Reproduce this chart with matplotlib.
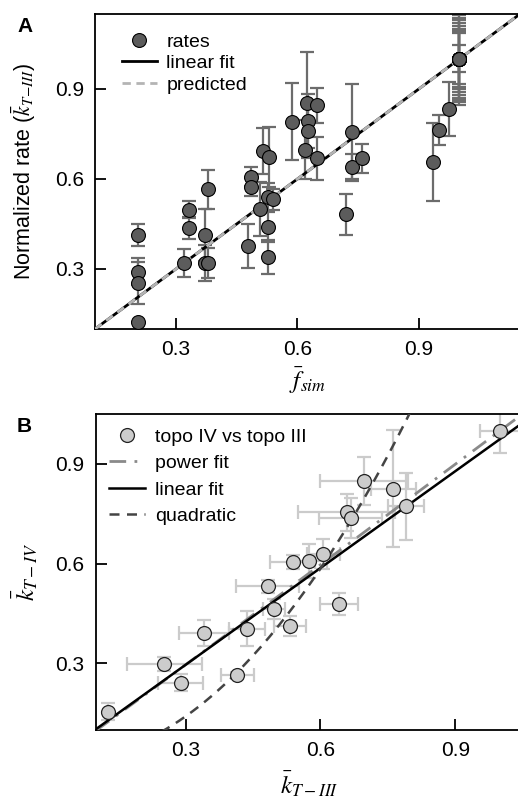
import numpy as np
import matplotlib
matplotlib.use('Agg')
import matplotlib.pyplot as plt

plt.rcParams['font.family'] = ['Liberation Sans', 'DejaVu Sans']
plt.rcParams['mathtext.fontset'] = 'stix'
plt.rcParams['font.size'] = 14

# ---------------- panel A data: rates vs f_sim ----------------
f_sim = [0.205, 0.205, 0.205, 0.205, 0.321, 0.333, 0.333, 0.372, 0.378, 0.372,
         0.378, 0.477, 0.485, 0.485, 0.508, 0.514, 0.531, 0.527, 0.540, 0.528,
         0.528, 0.587, 0.624, 0.649, 0.626, 0.627, 0.619, 0.649, 0.734, 0.734,
         0.760, 0.719, 0.936, 0.950, 0.974]
rate = [0.413, 0.291, 0.252, 0.124, 0.320, 0.497, 0.436, 0.413, 0.565, 0.319,
        0.320, 0.376, 0.608, 0.572, 0.500, 0.693, 0.672, 0.541, 0.532, 0.439,
        0.339, 0.791, 0.853, 0.845, 0.793, 0.760, 0.698, 0.669, 0.755, 0.641,
        0.669, 0.482, 0.658, 0.763, 0.832]
rate_err = [0.036, 0.045, 0.070, 0.000, 0.046, 0.028, 0.036, 0.086, 0.064, 0.060,
            0.050, 0.074, 0.033, 0.030, 0.090, 0.078, 0.100, 0.047, 0.035, 0.050,
            0.056, 0.128, 0.170, 0.057, 0.090, 0.090, 0.097, 0.072, 0.163, 0.042,
            0.048, 0.068, 0.130, 0.050, 0.090]
# reference points at (1, 1), one per construct
ref_x = [1.0, 1.0, 1.0, 1.0, 1.0, 1.0, 1.0, 1.0, 1.0, 1.0]
ref_y = [1.0, 1.0, 1.0, 1.0, 1.0, 1.0, 1.0, 1.0, 1.0, 1.0]
ref_err = [0.153, 0.145, 0.138, 0.130, 0.120, 0.110, 0.100, 0.092, 0.085, 0.045]

fitA_slope, fitA_icpt = 1.0, 0.0      # linear fit
predA_slope, predA_icpt = 1.0, 0.0    # predicted

# ---------------- panel B data: topo IV vs topo III ----------------
k3 = [0.127, 0.253, 0.289, 0.341, 0.415, 0.437, 0.483, 0.497, 0.532, 0.538,
      0.574, 0.606, 0.641, 0.658, 0.667, 0.697, 0.762, 0.791, 0.999]
k4 = [0.155, 0.298, 0.242, 0.392, 0.265, 0.405, 0.532, 0.463, 0.412, 0.605,
      0.608, 0.628, 0.478, 0.754, 0.738, 0.848, 0.826, 0.772, 0.998]
k3_err = [0.000, 0.083, 0.050, 0.055, 0.037, 0.040, 0.070, 0.025, 0.036, 0.050,
          0.040, 0.037, 0.042, 0.108, 0.070, 0.097, 0.050, 0.040, 0.045]
k4_err = [0.025, 0.020, 0.025, 0.040, 0.010, 0.053, 0.020, 0.030, 0.030, 0.020,
          0.050, 0.045, 0.033, 0.055, 0.060, 0.072, 0.176, 0.100, 0.065]

lin_slope, lin_icpt = 0.97, 0.005            # linear fit
pow_a, pow_b = 1.0, 1.011                    # power fit a*x^b
quad_c0, quad_c1, quad_c2 = 0.012, -0.095, 1.75   # quadratic

W, H = 518, 801
fig = plt.figure(figsize=(W / 100, H / 100), dpi=100)

def style(ax, lim):
    ax.set_xlim(*lim)
    ax.set_ylim(*lim)
    ax.set_xticks([0.3, 0.6, 0.9])
    ax.set_yticks([0.3, 0.6, 0.9])
    ax.set_xticklabels(['0.3', '0.6', '0.9'])
    ax.set_yticklabels(['0.3', '0.6', '0.9'])
    ax.tick_params(direction='in', length=8, width=1.3, pad=8, labelsize=15)
    for s in ax.spines.values():
        s.set_linewidth(1.3)
    ax.spines['right'].set_visible(False)

# ---------------- A ----------------
axA = fig.add_axes([95 / W, 1 - 329 / H, 425 / W, 315 / H])
style(axA, (0.1, 1.15))
xx = np.array([0.1, 1.15])
axA.errorbar(f_sim + ref_x, rate + ref_y, yerr=rate_err + ref_err, fmt='none',
             ecolor='#6c6c6c', elinewidth=1.6, capsize=5, capthick=1.6, zorder=2)
axA.plot(xx, fitA_slope * xx + fitA_icpt, color='black', lw=2, label='linear fit', zorder=3)
axA.plot(xx, predA_slope * xx + predA_icpt, color='#b4b4b4', lw=2, ls=(0, (3, 2)),
         label='predicted', zorder=3)
axA.plot(f_sim + ref_x, rate + ref_y, 'o', ms=10, mfc='#5c5c5c', mec='black', mew=0.8,
         ls='none', label='rates', zorder=4)
h, l = axA.get_legend_handles_labels()
axA.legend([h[2], h[0], h[1]], [l[2], l[0], l[1]], loc='upper left',
           bbox_to_anchor=(0.063, 0.94), frameon=False, borderaxespad=0, borderpad=0,
           handlelength=1.8, handletextpad=0.5, labelspacing=0.2, fontsize=14)
axA.set_xlabel(r'$\bar{f}_{sim}$', fontsize=18)
axA.xaxis.set_label_coords(0.5, -0.115)
axA.set_ylabel(r'Normalized rate ($\bar{k}_{T\mathrm{-}III}$)', fontsize=15.5)
axA.yaxis.set_label_coords(-0.135, 0.5)
fig.text(17 / W, 1 - 32 / H, 'A', fontsize=15, fontweight='bold', ha='left', va='baseline')

# ---------------- B ----------------
axB = fig.add_axes([95.7 / W, 1 - 730 / H, 427 / W, 316 / H])
style(axB, (0.1, 1.05))
xb = np.linspace(0.1, 1.05, 200)
axB.errorbar(k3, k4, xerr=k3_err, yerr=k4_err, fmt='none', ecolor='#cbcbcb',
             elinewidth=1.6, capsize=5, capthick=1.6, zorder=2)
axB.plot(xb, pow_a * xb ** pow_b, color='#8a8a8a', lw=2, ls=(0, (6, 3, 1, 3)),
         label='power fit', zorder=3)
axB.plot(xb, lin_slope * xb + lin_icpt, color='black', lw=1.8, label='linear fit', zorder=3)
axB.plot(xb, quad_c0 + quad_c1 * xb + quad_c2 * xb ** 2, color='#444444', lw=1.8,
         ls=(0, (4, 3)), label='quadratic', zorder=3)
axB.plot(k3, k4, 'o', ms=10, mfc='#cccccc', mec='#222222', mew=0.9, ls='none',
         label='topo IV vs topo III', zorder=4)
h, l = axB.get_legend_handles_labels()
axB.legend([h[3], h[0], h[1], h[2]], [l[3], l[0], l[1], l[2]], loc='upper left',
           bbox_to_anchor=(0.03, 0.955), frameon=False, borderaxespad=0, borderpad=0,
           handlelength=1.9, handletextpad=0.5, labelspacing=0.45, fontsize=14)
axB.set_xlabel(r'$\bar{k}_{T-III}$', fontsize=18)
axB.xaxis.set_label_coords(0.5, -0.125)
axB.set_ylabel(r'$\bar{k}_{T-IV}$', fontsize=18)
axB.yaxis.set_label_coords(-0.13, 0.5)
fig.text(17 / W, 1 - 432 / H, 'B', fontsize=15, fontweight='bold', ha='left', va='baseline')

fig.savefig('out.png', dpi=100)
